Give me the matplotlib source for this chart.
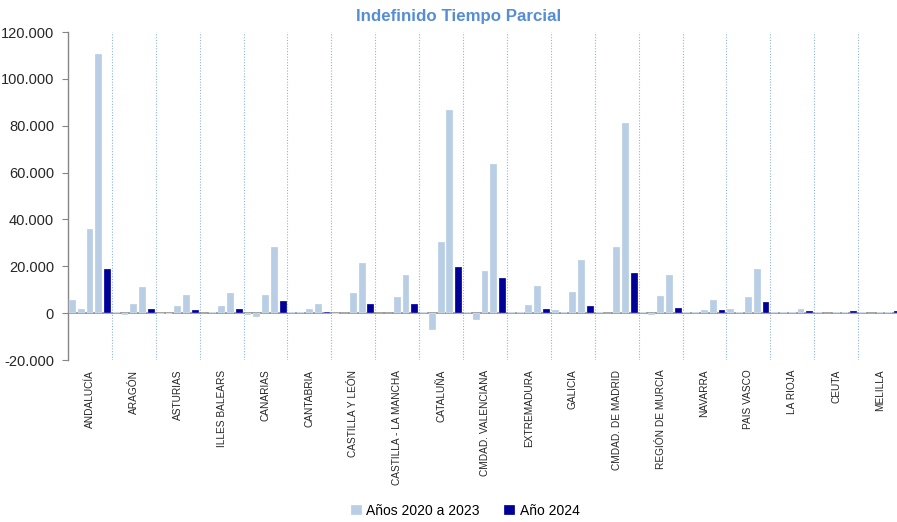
import numpy as np
import matplotlib
matplotlib.use("Agg")
import matplotlib.pyplot as plt
from matplotlib.ticker import FuncFormatter, FixedLocator

# data
regions = ["ANDALUCÍA", "ARAGÓN", "ASTURIAS", "ILLES BALEARS", "CANARIAS",
           "CANTABRIA", "CASTILLA Y LEÓN", "CASTILLA - LA MANCHA", "CATALUÑA",
           "CMDAD. VALENCIANA", "EXTREMADURA", "GALICIA", "CMDAD. DE MADRID",
           "REGIÓN DE MURCIA", "NAVARRA", "PAIS VASCO", "LA RIOJA", "CEUTA",
           "MELILLA"]

# four bars per region for 2020..2023
y2020 = [5700, 700, -200, 0, -1000, 600, -200, 0, 700, 700,
         600, 1300, 700, 700, 700, 1850, 700, 500, 500]
y2021 = [1850, -1000, -200, 600, -1850, 600, 0, 0, -7000, -3100,
         600, 700, -100, -1000, 700, 700, 700, 0, 0]
y2022 = [35900, 4000, 3000, 3000, 7800, 1850, 8400, 6800, 30300, 18200,
         3400, 9100, 28200, 7300, 1300, 6800, 700, 700, 700]
y2023 = [110400, 11100, 7800, 8400, 28200, 4000, 21500, 16100, 86900, 63800,
         11700, 22600, 81300, 16100, 5700, 18900, 1700, 700, 700]
y2024 = [18800, 1850, 1300, 1850, 5100, 700, 4000, 4000, 19900, 15100,
         1850, 3000, 17200, 2300, 1300, 4700, 850, 850, 850]

yticks = [-20000, 0, 20000, 40000, 60000, 80000, 100000, 120000]

light = "#B9CDE5"
dark = "#000099"

fig = plt.figure(figsize=(8.97, 5.22), dpi=100)
ax = fig.add_axes([68 / 897, 162 / 522, 834 / 897, 328 / 522])

n = len(regions)
idx = np.arange(n)
slot = 1 / 5
bw = slot * 0.78
series = [y2020, y2021, y2022, y2023, y2024]
for j, vals in enumerate(series):
    col = dark if j == 4 else light
    lab = None
    if j == 0:
        lab = "Años 2020 a 2023"
    elif j == 4:
        lab = "Año 2024"
    ax.bar(idx + (j + 0.5) * slot, vals, width=bw, color=col,
           edgecolor="white", linewidth=0.2, label=lab, zorder=3)

ax.set_xlim(0, n)
ax.set_ylim(-20000, 120000)

# y axis
ax.set_yticks(yticks)
ax.yaxis.set_major_formatter(FuncFormatter(lambda v, p: f"{int(v):,}".replace(",", ".")))
ax.tick_params(axis="y", direction="out", length=4, color="#868686",
               labelsize=10.5, pad=6, labelcolor="#262626")
for lab in ax.get_yticklabels():
    lab.set_family("Liberation Sans")

# x axis: labels at the centre, dotted separators between regions
ax.set_xticks(idx + 0.5)
ax.set_xticklabels(regions, rotation=90, va="top", ha="center",
                   fontsize=7.3, family="Liberation Sans", color="#262626")
ax.tick_params(axis="x", length=0, pad=7)
ax.xaxis.set_minor_locator(FixedLocator(np.arange(1, n + 1)))
ax.grid(which="minor", axis="x", color="#8DB4E2", linestyle=(0, (1, 1.5)),
        linewidth=0.8, zorder=1)
ax.tick_params(axis="x", which="minor", length=0)

ax.axhline(0, color="#868686", linewidth=1.2, zorder=2)
for s in ["top", "right", "bottom"]:
    ax.spines[s].set_visible(False)
ax.spines["left"].set_color("#868686")
ax.spines["left"].set_linewidth(1.0)

fig.text(459 / 897, 1 - 17 / 522, "Indefinido Tiempo Parcial", ha="center",
         va="center", fontsize=12.2, fontweight="bold", color="#558ED5",
         family="Liberation Sans")

fig.legend(loc="center", bbox_to_anchor=(465 / 897, 1 - 511 / 522), ncol=2,
           frameon=False, handlelength=0.8, handleheight=0.8,
           handletextpad=0.3, columnspacing=1.8,
           prop={"family": "Liberation Sans", "size": 10})

fig.savefig("out.png", dpi=100)
